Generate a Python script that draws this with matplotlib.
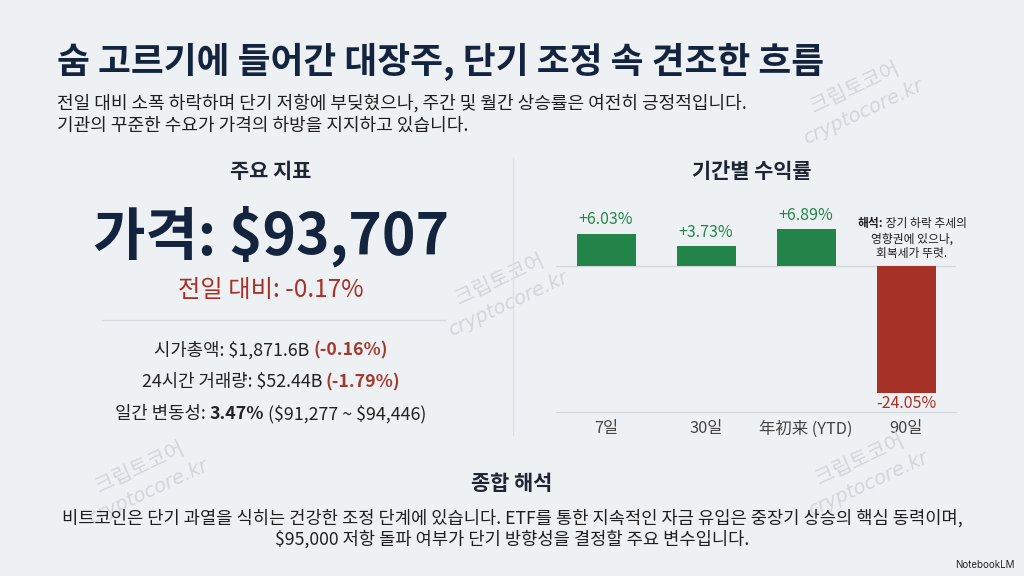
import matplotlib
matplotlib.use("Agg")
import matplotlib.pyplot as plt

plt.rcParams['font.family'] = ['Noto Sans CJK KR', 'DejaVu Sans']
plt.rcParams['text.parse_math'] = False

# data
periods = ["7일", "30일", "年初来 (YTD)", "90일"]
returns = [6.03, 3.73, 6.89, -24.05]

title = "숨 고르기에 들어간 대장주, 단기 조정 속 견조한 흐름"
subtitle = ["전일 대비 소폭 하락하며 단기 저항에 부딪혔으나, 주간 및 월간 상승률은 여전히 긍정적입니다.",
            "기관의 꾸준한 수요가 가격의 하방을 지지하고 있습니다."]
price_text = "가격: $93,707"
day_change = "전일 대비: -0.17%"
metrics = [
    [("시가총액: $1,871.6B ", "normal", "#222222"), ("(-0.16%)", "bold", "#a33a2e")],
    [("24시간 거래량: $52.44B ", "normal", "#222222"), ("(-1.79%)", "bold", "#a33a2e")],
    [("일간 변동성: ", "normal", "#222222"), ("3.47%", "bold", "#222222"),
     (" ($91,277 ~ $94,446)", "normal", "#222222")],
]
note_lines = [[("해석:", "bold"), (" 장기 하락 추세의", "normal")],
              [("영향권에 있으나,", "normal")],
              [("회복세가 뚜렷.", "normal")]]
summary = ["비트코인은 단기 과열을 식히는 건강한 조정 단계에 있습니다. ETF를 통한 지속적인 자금 유입은 중장기 상승의 핵심 동력이며,",
           "$95,000 저항 돌파 여부가 단기 방향성을 결정할 주요 변수입니다."]

bg = "#eef1f4"
navy = "#14243f"
green = "#23854a"
red = "#a63227"

W, H = 1024, 576
fig = plt.figure(figsize=(W / 100, H / 100), dpi=100, facecolor=bg)
renderer = fig.canvas.get_renderer()


def fx(px):
    return px / W


def fy(py):
    return 1 - py / H


def segments(xc, y, parts, size):
    # draw a line made of differently styled pieces, centered at xc
    texts = []
    for s, w, c in parts:
        t = fig.text(0, fy(y), s, fontsize=size, fontweight=w, color=c, va="center", ha="left")
        texts.append(t)
    widths = [t.get_window_extent(renderer).width for t in texts]
    x = xc - sum(widths) / 2
    for t, wd in zip(texts, widths):
        t.set_x(fx(x))
        x += wd


# watermarks
for wx, wy in [(855, 98), (500, 290), (140, 478), (860, 470)]:
    fig.text(fx(wx), fy(wy - 10), "크립토코어", fontsize=15, color="#d2d6da", rotation=25,
             ha="center", va="center", zorder=0)
    fig.text(fx(wx + 8), fy(wy + 14), "cryptocore.kr", fontsize=14, color="#d2d6da", rotation=25,
             ha="center", va="center", style="italic", zorder=0, family=["DejaVu Sans"])

# header
fig.text(fx(57), fy(62), title, fontsize=25.7, fontweight="bold", color=navy, va="center")
for i, line in enumerate(subtitle):
    fig.text(fx(57), fy(103 + i * 23), line, fontsize=13, color="#1e1e1e", va="center")

# left panel
fig.text(fx(271), fy(172), "주요 지표", fontsize=15, fontweight="bold", color="#1e2533",
         ha="center", va="center")
fig.text(fx(271), fy(236), price_text, fontsize=41, fontweight="bold", color=navy,
         ha="center", va="center")
fig.text(fx(271), fy(290), day_change, fontsize=17.5, color=red, ha="center", va="center")
fig.add_artist(plt.Line2D([fx(102), fx(445)], [fy(320), fy(320)], color="#d6dae0", lw=1))
for i, parts in enumerate(metrics):
    segments(271, 350 + i * 32, parts, 12.8)

# divider
fig.add_artist(plt.Line2D([fx(513), fx(513)], [fy(158), fy(435)], color="#dde1e6", lw=1))

# right panel chart
fig.text(fx(752), fy(172), "기간별 수익률", fontsize=15, fontweight="bold", color="#1e2533",
         ha="center", va="center")
ax = fig.add_axes([fx(556), fy(412), fx(400), (412 - 195) / H])
ax.set_facecolor("none")
colors = [green if v >= 0 else red for v in returns]
xs = range(len(periods))
ax.bar(xs, returns, width=0.59, color=colors, zorder=2)
ax.axhline(0, color="#d3d7dc", lw=1, zorder=1)
ax.set_xlim(-0.5, 3.5)
ax.set_ylim(-146 / 5.3, 71 / 5.3)
for x, v, c in zip(xs, returns, colors):
    lab = f"{v:+.2f}%"
    if v >= 0:
        ax.annotate(lab, (x, v), xytext=(0, 4), textcoords="offset points", ha="center",
                    va="bottom", fontsize=11.5, color=c)
    else:
        ax.annotate(lab, (x, v), xytext=(0, -1), textcoords="offset points", ha="center",
                    va="top", fontsize=11.5, color=c)
for s in ["top", "right", "left"]:
    ax.spines[s].set_visible(False)
ax.spines["bottom"].set_color("#d3d7dc")
ax.set_yticks([])
ax.set_xticks(list(xs))
ax.set_xticklabels(periods, fontsize=11.8, color="#444444")
ax.tick_params(axis="x", length=0, pad=6)

# note near 90d bar
for i, parts in enumerate(note_lines):
    segments(912, 224 + i * 15, [(s, w, "#1e1e1e") for s, w in parts], 8.5)

# summary
fig.text(fx(512), fy(483), "종합 해석", fontsize=15, fontweight="bold", color="#1e2533",
         ha="center", va="center")
for i, line in enumerate(summary):
    fig.text(fx(512), fy(518 + i * 21), line, fontsize=12.7, color="#1e1e1e", ha="center", va="center")

fig.text(fx(1015), fy(565), "NotebookLM", fontsize=7, color="#222222", ha="right", va="center",
         family=["Inter", "DejaVu Sans"])

fig.savefig("out.png", dpi=100, facecolor=bg)
